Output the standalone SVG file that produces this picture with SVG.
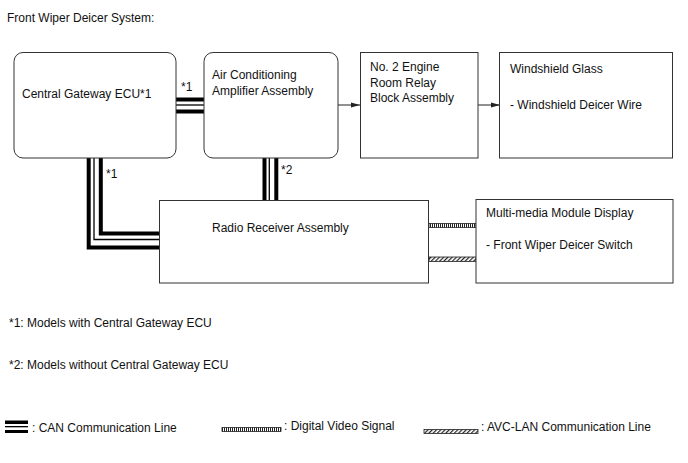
<svg xmlns="http://www.w3.org/2000/svg" width="688" height="463" viewBox="0 0 688 463">
<style>
text{font-family:"Liberation Sans",Arial,sans-serif;font-size:12px;fill:#111}
.box{fill:#fff;stroke:#333;stroke-width:1}
.thick{fill:none;stroke:#000;stroke-width:4}
.thin{fill:none;stroke:#000;stroke-width:1.3}
.arr{stroke:#222;stroke-width:1;fill:none;marker-end:url(#ah)}
</style>
<defs>
<marker id="ah" markerWidth="10" markerHeight="8" refX="9" refY="4" orient="auto" markerUnits="userSpaceOnUse">
<path d="M0,1.5 L9,4 L0,6.5 Z" fill="#222"/>
</marker>
<pattern id="vstripe" width="2" height="10" patternUnits="userSpaceOnUse">
<rect x="0" y="0" width="1" height="10" fill="#222"/>
</pattern>
<pattern id="diag" width="3" height="3" patternUnits="userSpaceOnUse" patternTransform="rotate(45)">
<rect x="0" y="0" width="1.2" height="3" fill="#222"/>
</pattern>
</defs>
<rect width="688" height="463" fill="#fff"/>
<text x="7" y="22">Front Wiper Deicer System:</text>

<g id="connectors">
<!-- CGW - AC horizontal CAN -->
<line class="thick" x1="176" y1="99.5" x2="204" y2="99.5"/>
<line class="thin" x1="176" y1="105" x2="204" y2="105"/>
<line class="thick" x1="176" y1="111.5" x2="204" y2="111.5"/>
<text x="181" y="91">*1</text>
<!-- CGW - Radio L CAN -->
<polyline class="thick" points="88.7,158 88.7,247.5 160,247.5"/>
<polyline class="thin" points="94,158 94,239.5 160,239.5"/>
<polyline class="thick" points="100.8,158 100.8,233.5 160,233.5"/>
<text x="106" y="178">*1</text>
<!-- AC - Radio vertical CAN -->
<line class="thick" x1="264.5" y1="158" x2="264.5" y2="200"/>
<line class="thin" x1="269.3" y1="158" x2="269.3" y2="200"/>
<line class="thick" x1="276.3" y1="158" x2="276.3" y2="200"/>
<text x="281" y="174">*2</text>
<!-- arrows -->
<line class="arr" x1="338" y1="105" x2="360" y2="105"/>
<line class="arr" x1="478" y1="105" x2="500" y2="105"/>
<!-- Digital video -->
<rect x="429" y="223.5" width="47" height="4" fill="url(#vstripe)" stroke="#222" stroke-width="0.8"/>
<!-- AVC-LAN -->
<rect x="429" y="257" width="47" height="4.5" fill="url(#diag)" stroke="#222" stroke-width="0.8"/>
</g>

<g id="cgw">
<rect class="box" x="14" y="52.5" width="162" height="105.5" rx="9"/>
<text x="22" y="98">Central Gateway ECU*1</text>
</g>
<g id="ac">
<rect class="box" x="204" y="52.5" width="134" height="105.5" rx="9"/>
<text x="212" y="79">Air Conditioning</text>
<text x="212" y="95">Amplifier Assembly</text>
</g>
<g id="relay">
<rect class="box" x="360.5" y="52.5" width="117.5" height="105.5"/>
<text x="370" y="71">No. 2 Engine</text>
<text x="370" y="87">Room Relay</text>
<text x="370" y="102">Block Assembly</text>
</g>
<g id="windshield">
<rect class="box" x="499.5" y="52.5" width="173" height="105.5"/>
<text x="510" y="73">Windshield Glass</text>
<text x="510" y="109">- Windshield Deicer Wire</text>
</g>
<g id="radio">
<rect class="box" x="159.5" y="200.5" width="269" height="82.5"/>
<text x="212" y="232">Radio Receiver Assembly</text>
</g>
<g id="multimedia">
<rect class="box" x="476" y="199.5" width="197" height="83.5"/>
<text x="486" y="217">Multi-media Module Display</text>
<text x="486" y="249">- Front Wiper Deicer Switch</text>
</g>

<text x="9" y="327">*1: Models with Central Gateway ECU</text>
<text x="9" y="369">*2: Models without Central Gateway ECU</text>

<g id="legend">
<rect x="5" y="420.5" width="23" height="3.5" fill="#000"/>
<rect x="5" y="426" width="23" height="1.3" fill="#000"/>
<rect x="5" y="430" width="23" height="3" fill="#000"/>
<text x="32" y="432">: CAN Communication Line</text>
<rect x="222" y="427.5" width="59" height="4" fill="url(#vstripe)" stroke="#222" stroke-width="0.8"/>
<text x="284" y="430">: Digital Video Signal</text>
<rect x="424" y="429.5" width="54" height="4" fill="url(#diag)" stroke="#222" stroke-width="0.8"/>
<text x="481" y="431">: AVC-LAN Communication Line</text>
</g>
</svg>
